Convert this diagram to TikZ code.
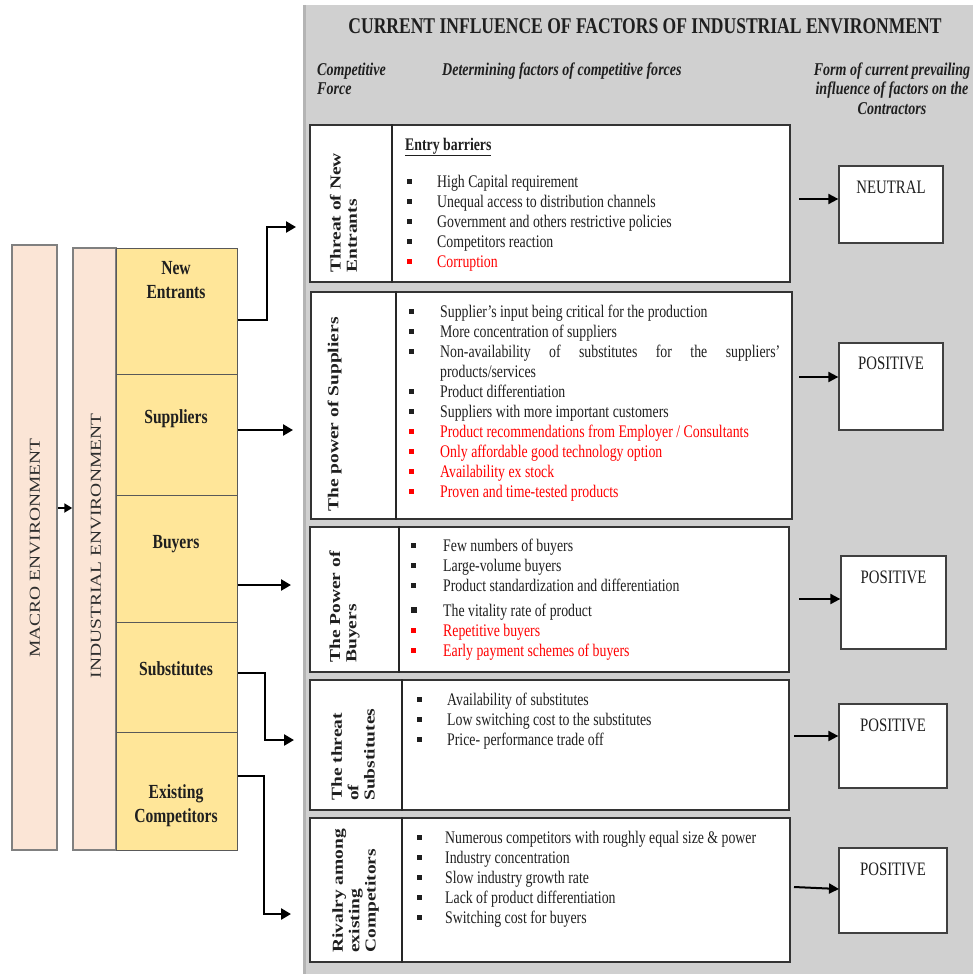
\documentclass[tikz,border=0pt]{standalone}
\usepackage{fontspec}
\setmainfont{Liberation Serif}[FakeStretch=0.78]
\newfontfamily\rotfont{Liberation Serif}
\usepackage{graphicx}
\usetikzlibrary{arrows.meta,fit}
\definecolor{panelgray}{HTML}{D0D0D0}
\definecolor{paneledge}{HTML}{B4B4B4}
\definecolor{pinkbg}{HTML}{FBE5D6}
\definecolor{yellowbg}{HTML}{FFE699}
\definecolor{txt}{HTML}{1F1F1F}
\definecolor{redtxt}{HTML}{FF0000}
\newcommand{\bul}{\leavevmode\raisebox{3.5pt}{\rule{4.3pt}{4.3pt}}}
\newcommand{\bigbul}{\leavevmode\raisebox{3pt}{\rule{6pt}{6pt}}}
\newcommand{\rbul}{\leavevmode\textcolor{redtxt}{\raisebox{3.5pt}{\rule{4.3pt}{4.3pt}}}}
\newcommand{\rtx}[1]{\textcolor{redtxt}{#1}}
\newcommand{\rotlab}[1]{\scalebox{1}[0.78]{\begin{tabular}{@{}l@{}}#1\end{tabular}}}
\begin{document}
\begin{tikzpicture}[x=1pt,y=-1pt,
  rowbox/.style={draw=black!80, line width=1.4pt, fill=white, inner sep=0pt},
  resbox/.style={draw=black!75, line width=1.3pt, fill=white, inner sep=0pt},
  ycell/.style={draw=black!65, line width=1pt, fill=yellowbg, inner sep=0pt},
  pinkbox/.style={draw=black!50, line width=1.5pt, fill=pinkbg, inner sep=0pt},
  divline/.style={draw=black!85, line width=1.4pt},
  items/.style={inner sep=0pt, anchor=north west, text=txt, font=\fontsize{17.7}{20}\selectfont},
  ylab/.style={inner sep=0pt, text=txt, font=\bfseries\fontsize{20}{24}\selectfont},
  rotl/.style={inner sep=0pt, rotate=90, anchor=west, text=txt, font=\rotfont\bfseries\fontsize{19.5}{21}\selectfont},
  envl/.style={inner sep=0pt, rotate=90, text=black!82, font=\rotfont\fontsize{19.5}{21}\selectfont},
  restext/.style={inner sep=0pt, anchor=base, text=txt, font=\fontsize{19}{19}\selectfont},
  hdr/.style={inner sep=0pt, text=txt, font=\bfseries\itshape\fontsize{18}{19.5}\selectfont},
  conn/.style={line width=2.6pt, -{Triangle[length=10pt,width=11pt]}},
  rconn/.style={line width=2pt, -{Triangle[length=10pt,width=10pt]}}
]
\useasboundingbox (0,0) rectangle (973,974);
\fill[white] (0,0) rectangle (973,974);

% gray panel
\fill[panelgray] (303,5) rectangle (973,974);
\draw[paneledge, line width=2.5pt] (304.5,5) -- (304.5,974);

% title and headers
\node[inner sep=0pt, anchor=base, text=txt, font=\bfseries\fontsize{22.5}{24}\selectfont] (title) at (645,33.5)
  {CURRENT INFLUENCE OF FACTORS OF INDUSTRIAL ENVIRONMENT};
\node[hdr, anchor=north west] (hcf) at (317,61.35) {\begin{tabular}{@{}l@{}}Competitive\\Force\end{tabular}};
\node[hdr, anchor=base west] (hdf) at (442,75) {Determining factors of competitive forces};
\node[hdr, anchor=north] (hfc) at (892,61.35) {\begin{tabular}{@{}c@{}}Form of current prevailing\\influence of factors on the\\Contractors\end{tabular}};

% left environment boxes
\node[pinkbox, fit={(12,245) (57,850)}] (macro) {};
\node[envl] (macrot) at (35,548) {\scalebox{1}[0.78]{MACRO ENVIRONMENT}};
\node[pinkbox, fit={(73,248) (116,850)}] (indus) {};
\node[envl] (indust) at (96,546) {\scalebox{1}[0.78]{INDUSTRIAL ENVIRONMENT}};
\coordinate (mi) at (57,508);
\draw[line width=2.5pt, -{Triangle[length=8pt,width=9pt]}] (macro.east |- mi) -- (indus.west |- mi);

% yellow column
\node[ycell, fit={(116,248) (237,374)}] (ne) {};
\node[ycell, fit={(116,374) (237,495)}] (su) {};
\node[ycell, fit={(116,495) (237,622)}] (bu) {};
\node[ycell, fit={(116,622) (237,732)}] (sb) {};
\node[ycell, fit={(116,732) (237,850)}] (ec) {};
\node[ylab, anchor=base] (net1) at (176,274) {New};
\node[ylab, anchor=base] (net2) at (176,298) {Entrants};
\node[ylab, anchor=base] (sut) at (176,423) {Suppliers};
\node[ylab, anchor=base] (but) at (176,548) {Buyers};
\node[ylab, anchor=base] (sbt) at (176,675) {Substitutes};
\node[ylab, anchor=base] (ect1) at (176,798) {Existing};
\node[ylab, anchor=base] (ect2) at (176,822) {Competitors};

% row boxes
\node[rowbox, fit={(310,125) (790,282)}] (r1) {};
\node[rowbox, fit={(311,292) (792,519)}] (r2) {};
\node[rowbox, fit={(310,527) (789,672)}] (r3) {};
\node[rowbox, fit={(310,680) (789,810)}] (r4) {};
\node[rowbox, fit={(310,818) (790,962)}] (r5) {};
\coordinate (d1) at (392,0);
\coordinate (d2) at (396,0);
\coordinate (d3) at (399,0);
\coordinate (d4) at (402,0);
\coordinate (d5) at (402,0);
\draw[divline] (r1.north -| d1) -- (r1.south -| d1);
\draw[divline] (r2.north -| d2) -- (r2.south -| d2);
\draw[divline] (r3.north -| d3) -- (r3.south -| d3);
\draw[divline] (r4.north -| d4) -- (r4.south -| d4);
\draw[divline] (r5.north -| d5) -- (r5.south -| d5);

% rotated row labels
\node[rotl] (l1) at (345.5,273) {\rotlab{Threat of New\\Entrants}};
\node[rotl] (l2) at (335,512) {\rotlab{The power of Suppliers}};
\node[rotl] (l3) at (345,663) {\rotlab{The Power of\\Buyers}};
\node[rotl] (l4) at (355,801) {\rotlab{The threat\\of\\Substitutes}};
\node[rotl] (l5) at (356,953) {\rotlab{Rivalry among\\existing\\Competitors}};

% row contents
\node[inner sep=0pt, anchor=base west, text=txt, font=\bfseries\fontsize{17.7}{20}\selectfont] (eb) at (405,150) {\underline{Entry barriers}};
\node[items] (i1) at (407,173) {\begin{tabular}{@{}p{30pt}@{}l@{}}
\bul & High Capital requirement\\
\bul & Unequal access to distribution channels\\
\bul & Government and others restrictive policies\\
\bul & Competitors reaction\\
\rbul & \rtx{Corruption}
\end{tabular}};
\node[items] (i2) at (409,303) {\begin{tabular}{@{}p{31pt}@{}l@{}}
\bul & Supplier’s input being critical for the production\\
\bul & More concentration of suppliers\\
\bul & \makebox[340pt][s]{Non-availability\hfill of\hfill substitutes\hfill for\hfill the\hfill suppliers’}\\
 & products/services\\
\bul & Product differentiation\\
\bul & Suppliers with more important customers\\
\rbul & \rtx{Product recommendations from Employer / Consultants}\\
\rbul & \rtx{Only affordable good technology option}\\
\rbul & \rtx{Availability ex stock}\\
\rbul & \rtx{Proven and time-tested products}
\end{tabular}};
\node[items] (i3) at (411,537) {\begin{tabular}{@{}p{32pt}@{}l@{}}
\bul & Few numbers of buyers\\
\bul & Large-volume buyers\\
\bul & Product standardization and differentiation\\[5pt]
\bigbul & The vitality rate of product\\
\rbul & \rtx{Repetitive buyers}\\
\rbul & \rtx{Early payment schemes of buyers}
\end{tabular}};
\node[items] (i4) at (417,691) {\begin{tabular}{@{}p{30pt}@{}l@{}}
\bul & Availability of substitutes\\
\bul & Low switching cost to the substitutes\\
\bul & Price- performance trade off
\end{tabular}};
\node[items] (i5) at (417,829) {\begin{tabular}{@{}p{28pt}@{}l@{}}
\bul & Numerous competitors with roughly equal size \& power\\
\bul & Industry concentration\\
\bul & Slow industry growth rate\\
\bul & Lack of product differentiation\\
\bul & Switching cost for buyers
\end{tabular}};

% result boxes
\node[resbox, fit={(839,166) (943,243)}] (b1) {};
\node[resbox, fit={(839,343) (943,430)}] (b2) {};
\node[resbox, fit={(841,556) (946,649)}] (b3) {};
\node[resbox, fit={(839,704) (947,788)}] (b4) {};
\node[resbox, fit={(839,848) (947,933)}] (b5) {};
\node[restext] (t1) at (891,193) {NEUTRAL};
\node[restext] (t2) at (891,369) {POSITIVE};
\node[restext] (t3) at (893.5,583) {POSITIVE};
\node[restext] (t4) at (893,731) {POSITIVE};
\node[restext] (t5) at (893,875) {POSITIVE};

% arrows to result boxes
\coordinate (ra1) at (799,199);
\coordinate (ra2) at (799,377);
\coordinate (ra3) at (799,599);
\coordinate (ra4) at (794,736);
\coordinate (ra5) at (794,887);
\coordinate (rb5) at (839,889);
\draw[rconn] (ra1) -- (b1.west |- ra1);
\draw[rconn] (ra2) -- (b2.west |- ra2);
\draw[rconn] (ra3) -- (b3.west |- ra3);
\draw[rconn] (ra4) -- (b4.west |- ra4);
\draw[rconn] (ra5) -- (rb5);

% connectors from the yellow column
\coordinate (s1) at (237,320);
\coordinate (m1) at (267,227);
\coordinate (e1) at (296,227);
\coordinate (s2) at (236,430);
\coordinate (e2) at (293,430);
\coordinate (s3) at (236,585);
\coordinate (e3) at (291,585);
\coordinate (s4) at (237,673);
\coordinate (m4) at (265,740);
\coordinate (e4) at (294,740);
\coordinate (s5) at (237,776);
\coordinate (m5) at (264,914);
\coordinate (e5) at (291,914);
\draw[conn] (ne.east |- s1) -| (m1) -- (e1);
\draw[conn] (su.east |- s2) -- (e2);
\draw[conn] (bu.east |- s3) -- (e3);
\draw[conn] (sb.east |- s4) -| (m4) -- (e4);
\draw[conn] (ec.east |- s5) -| (m5) -- (e5);
\end{tikzpicture}
\end{document}
